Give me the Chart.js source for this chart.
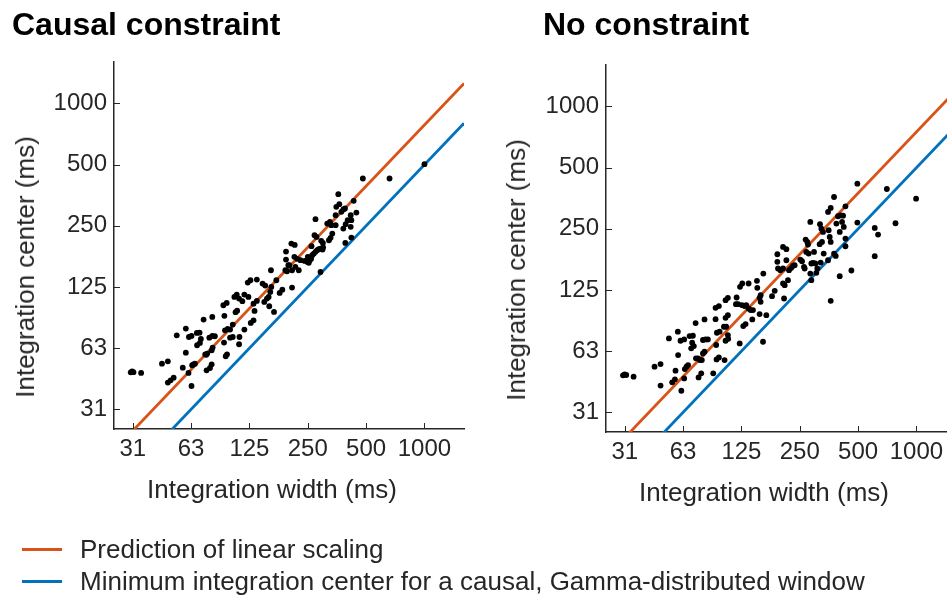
<!DOCTYPE html>
<html>
<head>
<meta charset="utf-8">
<script src="https://cdn.jsdelivr.net/npm/chart.js@4.4.1/dist/chart.umd.min.js"></script>
<style>
  html, body { margin: 0; padding: 0; background: #fff; overflow: hidden; width: 947px; height: 596px; }
  .wrap { position: relative; width: 947px; height: 596px; overflow: hidden;
          font-family: "Liberation Sans", Arial, Helvetica, sans-serif; color: #262626; }
  .panel { position: absolute; width: 480px; height: 596px; }
  .t { position: absolute; white-space: nowrap; line-height: 1; }
  .title { font-size: 32px; font-weight: bold; color: #000; }
  .axt { font-size: 26px; }
  .xt { transform: translateX(-50%); }
  .yt { transform: translate(-50%, -50%) rotate(-90deg); }
  .sw { position: absolute; height: 3px; width: 40px; }
</style>
</head>
<body>
<div class="wrap">
  <div class="panel" style="left:0;top:0"><canvas id="causal" width="480" height="596"></canvas></div>
  <div class="panel" style="left:492px;top:3px"><canvas id="nocon" width="480" height="596"></canvas></div>

  <div class="t title" style="left:12px;top:8px">Causal constraint</div>
  <div class="t title" style="left:543px;top:8px">No constraint</div>

  <div class="t axt xt" style="left:272px;top:476px">Integration width (ms)</div>
  <div class="t axt xt" style="left:764px;top:479px">Integration width (ms)</div>
  <div class="t axt yt" style="left:24.5px;top:266.7px">Integration center (ms)</div>
  <div class="t axt yt" style="left:516.2px;top:269.7px">Integration center (ms)</div>

  <div class="sw" style="left:22px;top:547.5px;background:#D95319"></div>
  <div class="sw" style="left:22px;top:579.5px;background:#0072BD"></div>
  <div class="t axt" style="left:80px;top:536px">Prediction of linear scaling</div>
  <div class="t axt" style="left:80px;top:568px">Minimum integration center for a causal, Gamma-distributed window</div>
</div>

<script>
// Axis ticks (ms) and their printed labels
const tickValues = [31.25, 62.5, 125, 250, 500, 1000];
const tickLabels = ['31', '63', '125', '250', '500', '1000'];
const axisRange = [25, 1600];

// Causal constraint: integration width / center per electrode (ms)
const causalWidth = [30.5, 31, 31.5, 34.5, 44.2, 47.4, 47.4, 49.0, 50.8, 56.6, 52.7, 58.7, 58.7, 60.9, 62.8, 60.6, 62.8,
  63.3, 65.4, 64.3, 66.9, 69.1, 67.1, 69.4, 70.2, 72.5, 73.9, 75.7, 74.8, 75.1, 78.2, 79.8, 77.6, 80.4, 82.9, 79.8, 80.7,
  80.4, 92.8, 91.7, 95.4, 92.4, 94.3, 95.8, 93.5, 96.5, 99.3, 102.5, 99.3, 102.5, 104.5, 107.5, 106, 108, 110.5, 111.0,
  110.5, 114.9, 117.7, 117.7, 122.5, 126.5, 123.5, 127.0, 131.2, 131.2, 136.5, 132.8, 136.5, 146.1, 150.8, 149.1, 153.9,
  157.0, 160.1, 158.2, 162.1, 161.4, 167.4, 172.1, 179.0, 184.8, 193.0, 193.0, 191.5, 195.4, 198.5, 205.7, 214.1, 200.9,
  207.4, 207.4, 213.2, 220.2, 215.8, 224.6, 229.1, 241.0, 250, 256.0, 253, 249, 263.4, 268.6, 274.0, 279.6, 290.8, 298.0,
  285, 260, 300, 274.0, 270.8, 277.3, 261.3, 290.8, 293.2, 299.2, 315.0, 325.3, 330.5, 321.5, 327.9, 334.5, 348.1, 348.1,
  350.9, 359.3, 363.6, 372.5, 381.4, 389.1, 381.4, 392.1, 401.7, 416.4, 419.6, 416.4, 419.6, 390.6, 431.4, 445.4, 481.0,
  660.5, 1000];
const causalCenter = [47.5, 48, 47.6, 47.2, 52.4, 53.8, 42.3, 43.4, 44.7, 50.1, 72.3, 78.0, 59.4, 70.9, 71.8, 47.2, 40.7,
  51.5, 52.4, 52.0, 74.3, 74.5, 64.6, 66.3, 69.4, 86.4, 58.3, 58.8, 58.0, 48.6, 49.9, 52.0, 70.4, 71.8, 71.5, 61.0, 62.9,
  89.0, 90.1, 101.6, 104.3, 66.6, 57.0, 58.3, 76.5, 77.7, 77.1, 81.6, 70.4, 70.9, 111.7, 114.7, 94, 95.5, 109.6, 70.9,
  65.3, 106.4, 114.7, 77.1, 131.4, 134.9, 111.7, 83.2, 85.7, 103.5, 106.7, 95.3, 136.0, 129.9, 127.0, 105.5, 109.6,
  111.7, 118.2, 100.5, 125.1, 151.1, 94.2, 134.9, 116.9, 121.3, 186.7, 170.6, 151.1, 149.4, 159.9, 204.5, 201.4, 159.9,
  151.1, 124.1, 175.9, 171.9, 156.9, 151.1, 169.3, 168.0, 175.9, 169.3, 164.3, 166, 179.1, 182.5, 186.1, 189.6, 193.2, 191.0,
  192, 172, 196, 269.5, 224.7, 220.5, 198.4, 148.3, 210.8, 206.0, 256.5, 261.2, 251.7, 212.3, 218.1, 229.0, 251.7, 282.0,
  309.9, 357.8, 319.4, 292.8, 300.7, 304.1, 242.4, 254.6, 266.5, 282.0, 266.5, 247.1, 218.9, 206.0, 331.8, 290.5, 427.3,
  427.3, 502.7];

// No constraint: integration width / center per electrode (ms)
const noneWidth = [30.6, 31.2, 31.8, 34.7, 44.5, 47.8, 47.8, 54.9, 56.7, 57.1, 52.8, 58.7, 58.9, 60.6, 63.3, 61.2, 63.3,
  63.8, 65.1, 66.3, 67.5, 70.2, 68.8, 71.0, 69.6, 72.5, 72.8, 74.5, 76.3, 78.1, 75.1, 77.5, 79.1, 80.6, 79.1, 81.6, 83.9,
  80.6, 89.4, 91.9, 95.6, 91.9, 92.6, 93.4, 96.4, 93.0, 95.6, 101.5, 104.3, 102.3, 103.5, 106.8, 106.4, 103.5, 106.4,
  103.5, 106.4, 118.0, 117.1, 120.0, 122.4, 122.9, 126.2, 127.7, 131.3, 125.7, 129.8, 132.4, 136.1, 139.4, 143.3, 136.1,
  142.2, 150.3, 150.9, 155.1, 157.0, 157.0, 162.1, 161.5, 155.1, 168.0, 179.8, 185.6, 191.5, 191.5, 193.0, 198.5, 204.9,
  204.9, 213.2, 204.9, 209.0, 207.4, 213.2, 217.3, 220.0, 226.2, 230.6, 235.2, 251.6, 256.7, 262.8, 264.9, 268.0, 273.4,
  275.6, 283.3, 270.1, 277.8, 286.8, 292.6, 283.3, 286.8, 296.1, 300.8, 308.0, 304.4, 317.9, 323.0, 329.5, 316.6, 325.6,
  320.5, 332.2, 349.8, 349.8, 352.4, 356.8, 361.0, 361.0, 375.6, 375.6, 383.2, 386.2, 394.0, 406.6, 418.1, 401.9, 413.2,
  421.7, 430.1, 430.1, 430.1, 401.9, 361.0, 461.6, 495.5, 495.5, 609.2, 633.8, 609.2, 703.5, 779.6, 995.8];
const noneCenter = [47.5, 48, 47.7, 46.8, 52.4, 54.0, 42.3, 43.9, 45.4, 50.1, 72.2, 77.9, 59.8, 70.3, 71.4, 39.9, 45.9,
  51.0, 52.4, 53.4, 74.1, 74.4, 64.5, 66.2, 68.8, 85.9, 57.6, 57.6, 56.5, 56.5, 46.4, 48.6, 60.9, 62.1, 70.9, 71.4, 71.4,
  89.5, 48.6, 102.1, 104.1, 89.8, 67.0, 77.0, 77.9, 56.9, 58.2, 82.4, 82.4, 56.5, 70.3, 71.9, 75.0, 91.2, 94.0,
  111.4, 114.4, 114.8, 106.4, 106.4, 68.2, 129.5, 134.5, 83.0, 84.9, 105.3, 104.1, 105.3, 101.4, 99.5, 99.5, 134.5,
  89.5, 138.7, 128.1, 114.4, 117.9, 109.3, 150.6, 69.5, 95.1, 94.0, 116.5, 123.8, 187.4, 171.9, 159.4, 156.4, 159.4,
  203.7, 198.4, 134.5, 132.0, 113.5, 175.1, 139.7, 156.4, 160.6, 164.3, 165.5, 176.5, 173.2, 162.5, 159.4, 221.3, 215.5,
  209.1, 270.3, 192.4, 188.9, 168.7, 169.9, 150.6, 139.7, 192.4, 168.7, 159.4, 151.8, 263.2, 250.5, 241.4, 210.0, 215.5,
  170.6, 188.9, 175.1, 302.6, 245.9, 228.0, 215.5, 316.7, 358.5, 188.9, 183.9, 265.2, 288.2, 291.4, 290.2, 241.4, 270.3,
  255.3, 322.7, 223.8, 205.2, 146.1, 110.6, 155.9, 417.0, 268.2, 252.5, 234.1, 183.3, 392.6, 266.2, 351.9];

// Reference lines, end points across the axis range (width -> center, ms)
const lineWidthEnds = [25, 1600];
const causalLinearEnds = [19.6, 1256];
const noneLinearEnds = [18.75, 1200];
const gammaMinEnds = [12.5, 800];

const INK = '#262626';
const FONT = '"Liberation Sans", Arial, Helvetica, sans-serif';

const toPoints = (xs, ys) => xs.map((x, i) => ({ x, y: ys[i] }));

// Short tick marks drawn inside the axes
const inwardTicks = {
  id: 'inwardTicks',
  afterDraw(chart) {
    const { ctx, chartArea } = chart;
    const xs = chart.scales.x, ys = chart.scales.y;
    ctx.save();
    ctx.strokeStyle = INK;
    ctx.lineWidth = 1;
    ctx.beginPath();
    tickValues.forEach(v => {
      const px = Math.round(xs.getPixelForValue(v)) + 0.5;
      ctx.moveTo(px, chartArea.bottom);
      ctx.lineTo(px, chartArea.bottom - 6);
      const py = Math.round(ys.getPixelForValue(v)) + 0.5;
      ctx.moveTo(chartArea.left, py);
      ctx.lineTo(chartArea.left + 6, py);
    });
    ctx.stroke();
    ctx.restore();
  }
};

function axis(extra) {
  return Object.assign({
    type: 'logarithmic',
    min: axisRange[0],
    max: axisRange[1],
    afterBuildTicks: s => { s.ticks = tickValues.map(v => ({ value: v })); },
    ticks: {
      callback: (v, i) => tickLabels[i],
      font: { family: FONT, size: 24 },
      color: INK,
      autoSkip: false,
      maxRotation: 0,
      minRotation: 0
    },
    grid: { display: false, drawTicks: false },
    border: { display: true, color: INK, width: 1.5 }
  }, extra);
}

function makePanel(id, widths, centers, linearEnds) {
  new Chart(document.getElementById(id), {
    type: 'scatter',
    data: {
      datasets: [
        {
          label: 'electrodes',
          data: toPoints(widths, centers),
          pointRadius: 2.9,
          pointBackgroundColor: '#000',
          pointBorderWidth: 0,
          order: 0
        },
        {
          label: 'Prediction of linear scaling',
          data: toPoints(lineWidthEnds, linearEnds),
          showLine: true,
          borderColor: '#D95319',
          borderWidth: 2.8,
          pointRadius: 0,
          clip: 0,
          order: 1
        },
        {
          label: 'Minimum integration center for a causal, Gamma-distributed window',
          data: toPoints(lineWidthEnds, gammaMinEnds),
          showLine: true,
          borderColor: '#0072BD',
          borderWidth: 2.8,
          pointRadius: 0,
          clip: 0,
          order: 2
        }
      ]
    },
    options: {
      responsive: false,
      animation: false,
      layout: { padding: { left: 54, top: 62, right: 16, bottom: 127 } },
      plugins: { legend: { display: false }, tooltip: { enabled: false } },
      scales: {
        x: axis({ position: 'bottom', afterFit: s => { s.height = 40; },
                  ticks: Object.assign({}, axis().ticks, { padding: 6 }) }),
        y: axis({ position: 'left', afterFit: s => { s.width = 60; },
                  ticks: Object.assign({}, axis().ticks, { padding: 7 }) })
      }
    },
    plugins: [inwardTicks]
  });
}

makePanel('causal', causalWidth, causalCenter, causalLinearEnds);
makePanel('nocon', noneWidth, noneCenter, noneLinearEnds);
</script>
</body>
</html>
